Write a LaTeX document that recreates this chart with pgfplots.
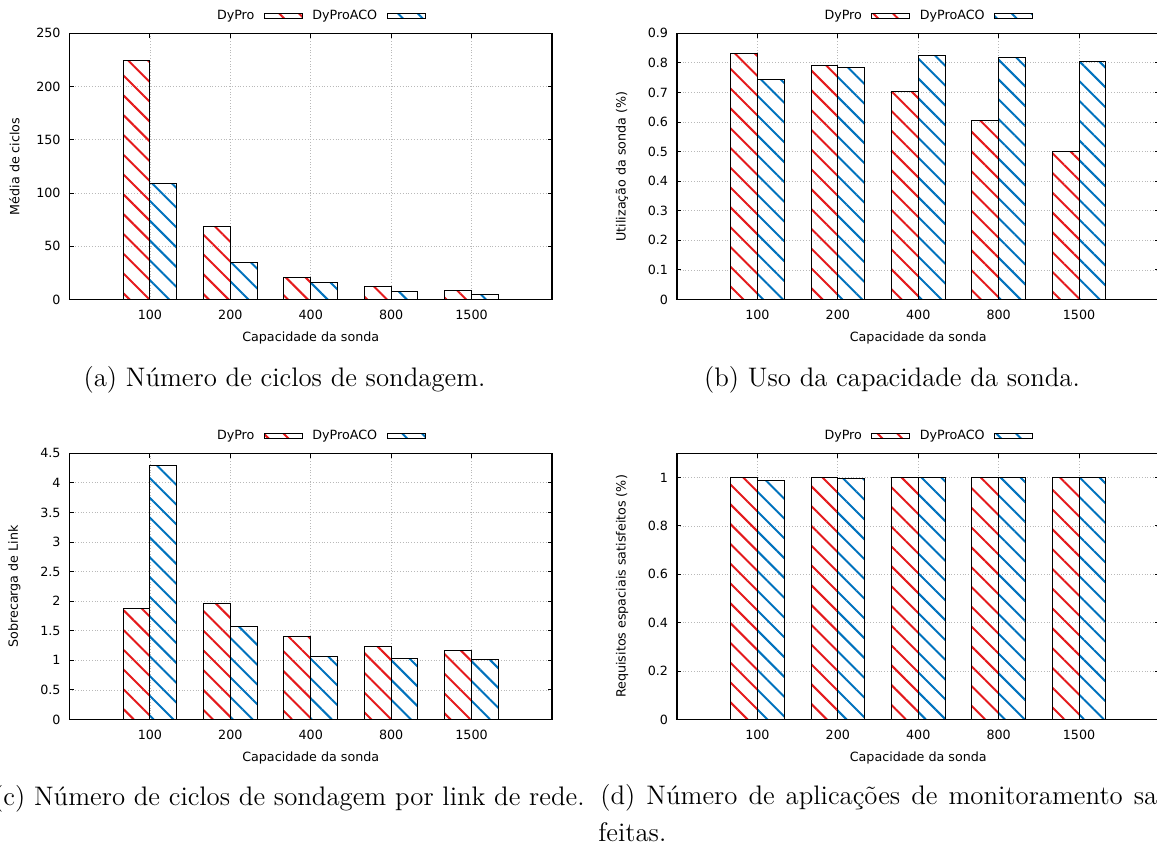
\documentclass[border=0pt]{standalone}
\usepackage{fontspec}
\newfontfamily\dejavu{DejaVu Sans}
\usepackage{pgfplots}
\pgfplotsset{compat=1.18}
\usetikzlibrary{patterns.meta}
\definecolor{dpred}{RGB}{228,26,28}
\definecolor{dpblue}{RGB}{0,114,189}
\newcommand\gpfont{\dejavu\fontsize{6.35}{7.6}\selectfont}
\newcommand\capfont{\rmfamily\fontsize{13.4}{16}\selectfont}
\pgfplotsset{
  gp/.style={
    scale only axis, width=241.25pt, height=133.1pt,
    xmin=-1, xmax=5, ymin=0,
    xtick={0,1,2,3,4}, xticklabels={100,200,400,800,1500},
    tick align=inside, major tick length=2.2pt,
    tick style={black, line width=0.5pt},
    axis line style={black, line width=0.8pt},
    grid=major, major grid style={densely dotted, gray!55, line width=0.4pt},
    /pgf/number format/assume math mode=true,
    scaled y ticks=false,
    tick label style={font=\gpfont, inner sep=0pt},
    yticklabel style={xshift=-4.3pt},
    xticklabel style={yshift=-5pt},
    label style={font=\gpfont},
    xlabel={Capacidade da sonda},
    xlabel style={at={(axis description cs:0.5,0)}, anchor=center, yshift=-19pt},
    ylabel style={at={(axis description cs:-0.114,0.5)}, anchor=center},
    legend columns=2, legend plot pos=right,
    legend style={draw=none, fill=none, font=\gpfont, at={(0.522,1.065)}, anchor=center,
      inner sep=0pt, /tikz/column sep=4.75pt, nodes={inner sep=0pt}},
    legend image code/.code={\draw[##1] (0pt,-1.2pt) rectangle (19pt,1.2pt);},
  },
  redbars/.style={ybar, bar width=0.3333, bar shift=-0.16667, draw=black, line width=0.5pt,
    pattern={Lines[angle=-45,distance=7pt,line width=1pt]}, pattern color=dpred},
  bluebars/.style={ybar, bar width=0.3333, bar shift=0.16667, draw=black, line width=0.5pt,
    pattern={Lines[angle=-45,distance=7pt,line width=1pt]}, pattern color=dpblue},
}
\begin{document}
\begin{tikzpicture}
\useasboundingbox (0,0) rectangle (578.5pt,-421.5pt);
\clip (0,0) rectangle (578.5pt,-421.5pt);

% (a)
\begin{axis}[gp, at={(34.75pt,-16.65pt)}, anchor=north west,
  ymax=250, ytick={0,50,100,150,200,250}, ylabel={Média de ciclos}]
\addplot[redbars] coordinates {(0,224.4) (1,68.1) (2,20.3) (3,11.9) (4,8.4)};
\addlegendentry{DyPro}
\addplot[bluebars] coordinates {(0,109.4) (1,34.4) (2,15.6) (3,7.8) (4,4.4)};
\addlegendentry{DyProACO}
\end{axis}

% (b)
\begin{axis}[gp, at={(338.5pt,-16.65pt)}, anchor=north west,
  ymax=0.9, ytick={0,0.1,0.2,0.3,0.4,0.5,0.6,0.7,0.8,0.9}, ylabel={Utilização da sonda (\%)}]
\addplot[redbars] coordinates {(0,0.8325) (1,0.790) (2,0.704) (3,0.605) (4,0.501)};
\addlegendentry{DyPro}
\addplot[bluebars] coordinates {(0,0.745) (1,0.783) (2,0.8235) (3,0.818) (4,0.804)};
\addlegendentry{DyProACO}
\end{axis}

% (c)
\begin{axis}[gp, at={(34.75pt,-226.65pt)}, anchor=north west,
  ymax=4.5, ytick={0,0.5,1,1.5,2,2.5,3,3.5,4,4.5}, ylabel={Sobrecarga de Link}]
\addplot[redbars] coordinates {(0,1.879) (1,1.969) (2,1.406) (3,1.2375) (4,1.159)};
\addlegendentry{DyPro}
\addplot[bluebars] coordinates {(0,4.292) (1,1.575) (2,1.058) (3,1.024) (4,1.007)};
\addlegendentry{DyProACO}
\end{axis}

% (d)
\begin{axis}[gp, at={(338.5pt,-226.65pt)}, anchor=north west,
  ymax=1.1, ytick={0,0.2,0.4,0.6,0.8,1}, ylabel={Requisitos espaciais satisfeitos (\%)}]
\addplot[redbars] coordinates {(0,1.0) (1,1.0) (2,1.0) (3,1.0) (4,1.0)};
\addlegendentry{DyPro}
\addplot[bluebars] coordinates {(0,0.9886) (1,0.997) (2,1.0) (3,0.998) (4,1.0)};
\addlegendentry{DyProACO}
\end{axis}

\node[inner sep=0pt, anchor=center, font=\capfont] at (142.25pt,-189.75pt) {(a) Número de ciclos de sondagem.};
\node[inner sep=0pt, anchor=center, font=\capfont] at (446pt,-189.75pt) {(b) Uso da capacidade da sonda.};
\node[inner sep=0pt, anchor=east, font=\capfont] at (292.5pt,-399.5pt) {(c) Número de ciclos de sondagem por link de rede.};
\node[inner sep=0pt, anchor=west, font=\capfont] at (300pt,-399pt) {\makebox[296.75pt][s]{(d) Número de aplicações de monitoramento satis-}};
\node[inner sep=0pt, anchor=west, font=\capfont] at (299pt,-416pt) {feitas.};
\end{tikzpicture}
\end{document}
